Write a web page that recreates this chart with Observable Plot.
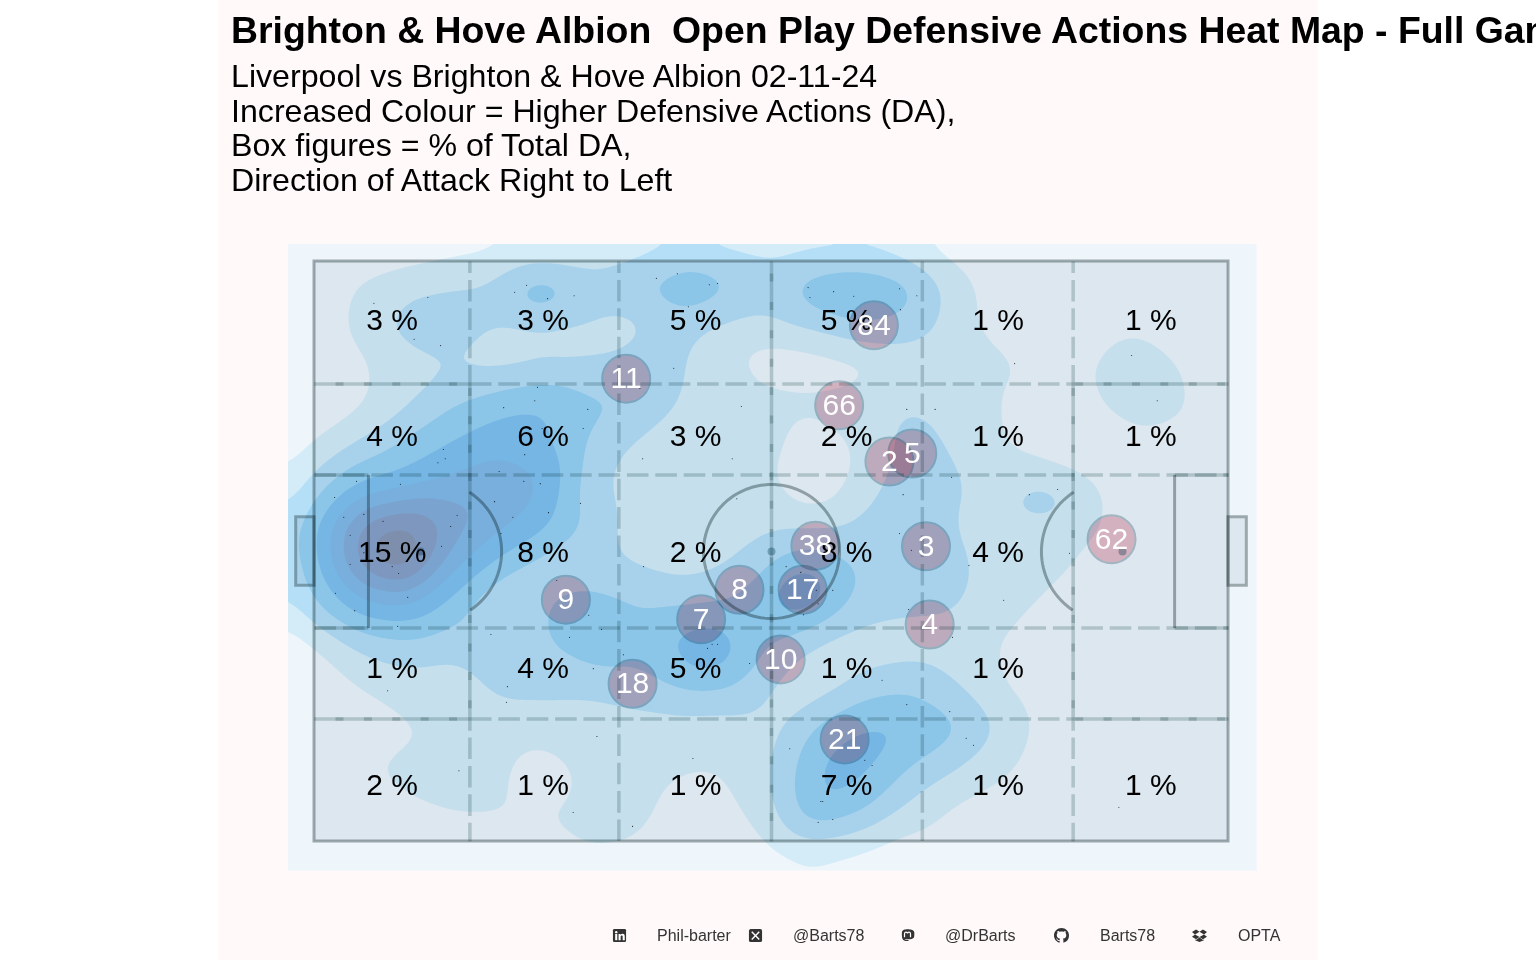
<!DOCTYPE html>
<html><head><meta charset="utf-8">
<script src="https://cdn.jsdelivr.net/npm/d3@7"></script>
<script src="https://cdn.jsdelivr.net/npm/@observablehq/plot@0.6"></script>
<style>
html,body{margin:0;padding:0;background:#fff;width:1536px;height:960px;overflow:hidden;font-family:"Liberation Sans",Arial,sans-serif}
#panel{position:absolute;left:218px;top:0;width:1100px;height:960px;background:#fff9f9}
#title{position:absolute;left:231px;top:9.5px;font-size:37.4px;line-height:40px;font-weight:700;white-space:nowrap;color:#000}
#sub{position:absolute;left:231px;top:59px;font-size:32.15px;line-height:34.67px;white-space:nowrap;color:#000}
#chart{position:absolute;left:218px;top:210px}
.f{position:absolute;top:926.5px;font-size:16px;line-height:18px;color:#333;white-space:nowrap}
.i{position:absolute;top:928px;width:15px;height:15px}
</style></head><body>
<div id="panel"></div>
<div id="title">Brighton &amp; Hove Albion&nbsp; Open Play Defensive Actions Heat Map - Full Game</div>
<div id="sub">Liverpool vs Brighton &amp; Hove Albion 02-11-24<br>Increased Colour = Higher Defensive Actions (DA),<br>Box figures = % of Total DA,<br>Direction of Attack Right to Left</div>
<div id="chart"></div>
<svg class="i" style="left:612px" viewBox="0 0 16 16"><rect x="1" y="1" width="14" height="14" rx="1.5" fill="#333"/><rect x="3.4" y="6.4" width="2.2" height="6.6" fill="#fff"/><circle cx="4.5" cy="4.4" r="1.3" fill="#fff"/><path d="M7 6.4h2.1v1c.5-.8 1.3-1.2 2.2-1.2 1.7 0 2.3 1.1 2.3 2.8V13h-2.2V9.4c0-.8-.2-1.4-1-1.4-.9 0-1.2.6-1.2 1.5V13H7z" fill="#fff"/></svg>
<span class="f" style="left:657px">Phil-barter</span>
<svg class="i" style="left:748px" viewBox="0 0 16 16"><rect x="1" y="1" width="14" height="14" rx="2" fill="#333"/><path d="M4 4l8 8.2M12 4l-8 8.2" stroke="#fff" stroke-width="1.5"/></svg>
<span class="f" style="left:793px">@Barts78</span>
<svg class="i" style="left:900px" viewBox="0 0 16 16"><path d="M8 1.2c-3 0-5.8.6-6 3.8-.1 2 0 5 .6 6.5.7 1.8 3 2.7 6.5 2.4v-1.200c-2 .2-3.700-.2-4-1.100 3 .7 8.500.6 9.800-1.600.4-.8.400-3.500.400-5C15.300 1.800 11 1.200 8 1.200z" fill="#333"/><path d="M4.800 9.800V6c0-2 2.800-2.300 3.200-.3.400-2 3.200-1.700 3.200.3v3.800" fill="none" stroke="#fff" stroke-width="1.300"/></svg>
<span class="f" style="left:945px">@DrBarts</span>
<svg class="i" style="left:1054px" viewBox="0 0 16 16"><path fill="#333" d="M8 0C3.580 0 0 3.580 0 8c0 3.540 2.290 6.530 5.470 7.590.4.070.55-.17.55-.38 0-.19-.01-.82-.01-1.490-2.010.37-2.530-.49-2.690-.94-.09-.23-.48-.94-.82-1.130-.28-.15-.68-.52-.01-.53.63-.01 1.080.58 1.230.82.72 1.210 1.870.87 2.330.66.07-.52.28-.87.51-1.070-1.780-.2-3.640-.89-3.640-3.950 0-.87.31-1.590.82-2.150-.08-.2-.36-1.020.08-2.120 0 0 .67-.21 2.200.82.64-.18 1.320-.27 2-.27.68 0 1.360.09 2 .27 1.530-1.040 2.200-.82 2.200-.82.44 1.100.16 1.920.08 2.120.51.56.82 1.270.82 2.150 0 3.070-1.870 3.750-3.650 3.950.29.25.54.73.54 1.480 0 1.070-.01 1.930-.01 2.200 0 .21.15.46.55.38A8.013 8.013 0 0016 8c0-4.420-3.580-8-8-8z"/></svg>
<span class="f" style="left:1100px">Barts78</span>
<svg class="i" style="left:1192px" viewBox="0 0 16 16"><path fill="#333" d="M4.300 1.500L0 4.300l3.200 2.500L8 4.100zM11.700 1.500L16 4.300l-3.200 2.500L8 4.100zM3.200 6.800L0 9.400l4.300 2.700L8 9.500zM12.800 6.800L16 9.400l-4.300 2.700L8 9.500zM8 10.200l-3.700 2.600-1-.6v.9L8 15l4.700-1.900v-.9l-1 .6z"/></svg>
<span class="f" style="left:1238px">OPTA</span>
<script>
// ---- density: one row per gridY, one value per gridX
const gridX = [-5,0,5,10,15,20,25,30,35,40,45,50,55,60,65,70,75,80,85,90,95,100,105];
const gridY = [-3.5,3.5,10.5,17.5,24.5,31.5,38.5,45.5,52.5,59.5,66.5,73.5,80.5,87.5,94.5,101.5,108.5];
const density = [
[.2,.2,.2,.3,.4,.5,.6,.8,1.2,1.7,1.3,1.2,1.3,1.4,.9,.4,.3,.2,.2,.2,.2,.2,.2],
[.2,.5,1.1,1.4,1.8,2.1,3.3,2.4,2.95,3.6,3.4,2.6,3.5,3.7,3.4,1.5,.5,.3,.3,.3,.3,.2,.2],
[.2,.4,1.3,2.7,2.7,2.05,2.1,1.9,1.5,2.6,2.0,1.8,2.4,3.3,2.9,1.4,.5,.3,.5,.8,.3,.2,.2],
[.2,.3,.8,1.5,1.9,1.6,1.9,2.0,2.5,2.1,1.5,.5,.4,.6,1.1,.95,1.3,.7,.95,1.6,.95,.3,.2],
[.2,.3,.7,1.8,2.9,3.7,4.1,3.2,3.05,1.9,1.5,1.3,1.3,1.4,2.05,1.7,1.0,.4,.9,1.5,1.15,.3,.2],
[.3,1.0,2.2,3.2,4.1,4.6,4.2,2.8,1.8,1.5,1.4,1.3,.4,1.2,2.4,1.9,.95,.6,.4,.7,.6,.3,.2],
[.3,2.6,4.2,4.6,5.3,5.8,5.2,2.3,1.5,1.3,1.3,1.2,.4,1.7,2.5,2.2,1.5,1.6,1.05,.6,.4,.3,.2],
[.9,3.9,7.4,8.4,6.6,5.3,4.4,2.9,1.5,1.3,1.6,1.8,1.9,2.3,2.6,2.0,1.4,1.5,1.05,.7,.4,.3,.2],
[.9,3.7,7.5,9.0,5.2,3.7,2.3,2.4,1.95,1.5,1.9,3.1,4.0,2.9,2.4,2.3,1.6,1.3,.8,.5,.4,.3,.2],
[.6,3.0,4.6,4.9,3.6,1.7,3.1,3.5,2.9,3.0,3.2,4.1,4.2,2.5,2.2,2.2,1.4,.8,.4,.3,.3,.3,.2],
[.3,.8,2.2,2.6,2.2,2.2,2.9,3.6,3.2,4.4,4.6,2.9,1.7,1.4,1.5,1.4,.9,.4,.3,.3,.3,.3,.2],
[.3,.4,.95,1.5,1.4,2.3,2.3,2.2,2.6,3.1,3.05,1.9,1.3,2.5,2.9,2.1,1,.4,.3,.3,.3,.3,.2],
[.2,.2,.4,.8,1.2,1.5,1.4,1.4,1.5,1.5,1.4,1.6,3.3,4.2,4.1,3.4,1.95,.6,.3,.3,.3,.3,.2],
[.2,.2,.95,1.3,1.4,1.3,.4,1.3,1.4,1.1,1.05,1.9,4.2,4.4,2.9,2.05,1.3,.5,.3,.3,.3,.3,.2],
[.2,.2,.3,.8,1.1,1.1,1.05,1.3,1.4,.6,.6,1.8,4.1,3.2,1.7,.8,.4,.3,.3,.3,.3,.3,.2],
[.2,.2,.2,.2,.3,.4,.6,1.05,.9,.4,.4,.85,1.35,.95,.5,.3,.2,.2,.2,.2,.2,.2,.2],
[.1,.1,.1,.1,.1,.1,.1,.1,.1,.1,.1,.1,.1,.1,.1,.1,.1,.1,.1,.1,.1,.1,.1]
];
const extraSamples = [[79.5,40.4,3.2],[30.9,63.8,4.9],[43.3,67.1,5.3],[53.2,56.7,5.6],[41.2,4.3,4.1],[59.2,5.7,4.2],[24.6,5.5,4.6],[21,5,3.3],[28,5,3.3],[8.5,50,9.4],
 [18,14.2,1.75],[22,14.2,1.4],[27,14.2,1.4],[32,14.2,1.5],[44,4.5,3.5],[37,5,3.5],[54,8,3.3],[66,8,3.0],[12,10,2.8],
 [50,15.5,.6],[55,16.5,.6],[60,17.5,.7],[45.5,16,.8],[55,33,.4],[55,41,.4],[52,37,.5],[58,37,.5],[20,35,5.3],[25,88,.3],[42,90,.7]];
const levels = [1,2,3,4,5,6,7,8];
const levelColours = ["#d4ecf8","#b5dff7","#96d1f4","#7ec1f0","#81b9e7","#83aeda","#86a0c8","#8697b5"];

// ---- small event dots
const eventX = [6.5,12.4,10.9,13.8,23.2,21.9,25.5,28.4,24.4,24.1,20.7,29.9,29.4,24.9,23,14.1,14.3,13.5,20.2,22.9,24.7,4.6,9.4,2.2,19.7,29.1,25.6,21.7,5.4,3.2,7.5,15.6,14.9,3.9,20.4,13.9,5.4,3.9,8.5,9.2,2.3,10.2,4.4,9.1,26.5,30,19.3,27.9,30.5,8,21.1,21,30.9,15.8,28.3,37.4,39.7,43.2,44.1,40.9,54,54.2,56.8,59,64,65.9,64.1,39.3,35.6,46.7,35.9,45.7,46.2,64.8,64.4,64,65.3,36,51.6,53.2,54.9,56.7,55.1,53.5,65,33.8,43.5,44.1,43,47.6,62.1,64.8,52,41.4,60.2,61,55.4,55.6,56.7,55.1,34.8,31.4,67.9,76.6,89.4,92.2,69.7,78.2,81.3,82.6,71.6,75.4,69.8,69.5,71.3,72.1,88];
const eventY = [7.2,6.2,13.4,14.5,4.1,5.3,6.4,5.9,21.7,24,25.2,25.5,28.8,28.8,33.3,32.4,34,34.7,36.2,37.9,38.3,37.9,38.4,40.7,41.4,41.7,43.3,44.1,43.6,44.1,44.8,43.8,45.7,47.2,46.9,49.1,50.2,52.2,52.6,53.8,57.2,57.9,60.2,62.9,55,61,64.3,64.8,70.2,74,73.3,76,81.9,87.8,95,2.9,2.1,4,3.8,7.8,4.5,6.2,5.2,6,4.7,5.9,8.3,18.4,21.9,25,34,34,40.9,25.5,40.2,46.9,49.8,52.6,52.6,53.6,56.7,56.7,59,60.9,60,67.8,66,66,66.7,69.3,72.2,76.4,84,85.7,86,86.9,93.1,93.1,96.2,96.7,97.4,63.4,25.5,17.6,16.2,24,37.2,40.2,39.3,50.3,52.4,58.4,64.8,77.6,82.2,83.4,94.1];

// ---- box percentages
const boxX = [8.5,25,41.7,58.2,74.8,91.5];
const boxY = [10.2,30.2,50.2,70.2,90.3];
const boxPct = [[3,3,5,5,1,1],[4,6,3,2,1,1],[15,8,2,8,4,null],[1,4,5,1,1,null],[2,1,1,7,1,1]];

// ---- player average positions
const shirts = [84,11,66,2,5,38,3,62,9,8,17,7,4,10,18,21];
const shirtX = [61.2,34.1,57.4,62.9,65.4,54.8,66.9,87.2,27.5,46.5,53.4,42.3,67.3,51,34.8,58];
const shirtY = [11,20.2,24.8,34.5,33.1,49,49.1,47.9,58.3,56.6,56.6,61.7,62.6,68.6,72.8,82.4];

const samples = [];
gridY.forEach((y,r)=>gridX.forEach((x,c)=>samples.push({x,y,v:density[r][c]})));
extraSamples.forEach(([x,y,v])=>samples.push({x,y,v}));
const events = eventX.map((x,i)=>({x,y:eventY[i]}));
const boxes = boxPct.flatMap((row,r)=>row.flatMap((v,c)=>v==null?[]:[{x:boxX[c],y:boxY[r],t:v+" %"}]));
const players = shirts.map((n,i)=>({n,x:shirtX[i],y:shirtY[i]}));

// ---- pitch geometry in pitch units
const toLink = ([x1,y1,x2,y2,phase])=>({x1,y1,x2,y2,phase});
const dashed = [[17,0,17,21.1],[17,78.9,17,100],[83,0,83,21.1],[83,78.9,83,100],[33.3,0,33.3,100],[66.5,0,66.5,100]].map(toLink);
const dashedH = [[17,21.1,83,21.1],[17,78.9,83,78.9],[0,36.8,100,36.8],[0,63.2,100,63.2]].map(toLink);
const solidSegs = [[0,21.1,17,21.1,21],[83,21.1,100,21.1,2],[0,78.9,17,78.9,21],[83,78.9,100,78.9,2],[17,21.1,17,78.9,4],[83,21.1,83,78.9,4],[50,0,50,100,12]].map(toLink);
const boxSides = [[5.9,36.8,5.9,63.2],[94.1,36.8,94.1,63.2]].map(toLink);
const boxTops = [[0,36.8,5.9,36.8],[0,63.2,5.9,63.2],[100,36.8,94.1,36.8],[100,63.2,94.1,63.2]].map(toLink);
const goals = [{x1:-2,x2:0,y1:44.1,y2:55.9},{x1:100,x2:102,y1:44.1,y2:55.9}];
const spots = [{x:11.6,y:50},{x:50,y:50},{x:88.4,y:50}];
const ring = d3.range(0,361,3).map(a=>({x:50+7.44*Math.cos(a*Math.PI/180),y:50+11.55*Math.sin(a*Math.PI/180)}));
const arcL = d3.range(-56,57,3).map(a=>({x:12.7+7.77*Math.cos(a*Math.PI/180),y:50+12.2*Math.sin(a*Math.PI/180)}));
const arcR = arcL.map(d=>({x:100-d.x,y:d.y}));

const lineC = "#a6b0b0", dashC = "#cad6d6", mult = "multiply";
const linkOpts = {x1:"x1",y1:"y1",x2:"x2",y2:"y2"};

const plot = Plot.plot({
  width:1100,height:700,marginLeft:69.5,marginRight:62,marginTop:33.5,marginBottom:40,
  style:{background:"transparent",fontFamily:"Liberation Sans, Arial, sans-serif"},
  x:{domain:[-2.9,103.06],axis:null},
  y:{domain:[-3.02,105],reverse:true,axis:null},
  color:{type:"ordinal",domain:levels,range:levelColours},
  marks:[
    Plot.frame({fill:"#eef5fb",stroke:"none"}),
    Plot.contour(samples,{x:"x",y:"y",fill:"v",thresholds:levels,interpolate:"barycentric",blur:7,clip:"frame"}),
    Plot.rect([{x1:0,x2:100,y1:0,y2:100}],{x1:"x1",x2:"x2",y1:"y1",y2:"y2",fill:"#edf1f3",mixBlendMode:mult}),
    Plot.rect(goals,{x1:"x1",x2:"x2",y1:"y1",y2:"y2",fill:"#edf1f3",stroke:lineC,strokeWidth:3,mixBlendMode:mult}),
    Plot.link(dashed,{...linkOpts,stroke:dashC,strokeWidth:3.5,strokeDasharray:"21.6 6.8",strokeDashoffset:10,mixBlendMode:mult}),
    Plot.link(dashedH,{...linkOpts,stroke:dashC,strokeWidth:3.5,strokeDasharray:"21.6 6.8",mixBlendMode:mult}),
    ...solidSegs.flatMap(s=>[
      Plot.link([s],{...linkOpts,stroke:dashC,strokeWidth:3.5,mixBlendMode:mult}),
      Plot.link([s],{...linkOpts,stroke:dashC,strokeWidth:3.5,strokeDasharray:"8 20.4",strokeDashoffset:28.4-s.phase,mixBlendMode:mult})
    ]),
    Plot.rect([{x1:0,x2:100,y1:0,y2:100}],{x1:"x1",x2:"x2",y1:"y1",y2:"y2",fill:"none",stroke:lineC,strokeWidth:3,mixBlendMode:mult}),
    Plot.link(boxSides,{...linkOpts,stroke:lineC,strokeWidth:3,mixBlendMode:mult}),
    Plot.link(boxTops,{...linkOpts,stroke:dashC,strokeWidth:3.5,mixBlendMode:mult}),
    Plot.line(ring,{x:"x",y:"y",stroke:lineC,strokeWidth:3,mixBlendMode:mult}),
    Plot.line(arcL,{x:"x",y:"y",stroke:lineC,strokeWidth:3,mixBlendMode:mult}),
    Plot.line(arcR,{x:"x",y:"y",stroke:lineC,strokeWidth:3,mixBlendMode:mult}),
    Plot.dot(spots,{x:"x",y:"y",r:4,fill:"#a8c0c8",mixBlendMode:mult}),
    Plot.dot(events,{x:"x",y:"y",r:.55,fill:"#000",fillOpacity:.85}),
    Plot.text(boxes,{x:"x",y:"y",text:"t",fontSize:30,fill:"#000",lineAnchor:"middle"}),
    ...players.map(p=>Plot.dot([p],{x:"x",y:"y",r:24,fill:"#f5c4cc",stroke:"#bac8cf",strokeWidth:2,mixBlendMode:mult})),
    Plot.text(players,{x:"x",y:"y",text:"n",fontSize:30,fill:"#fff",lineAnchor:"middle"})
  ]
});
document.getElementById("chart").append(plot);
</script>
</body></html>
